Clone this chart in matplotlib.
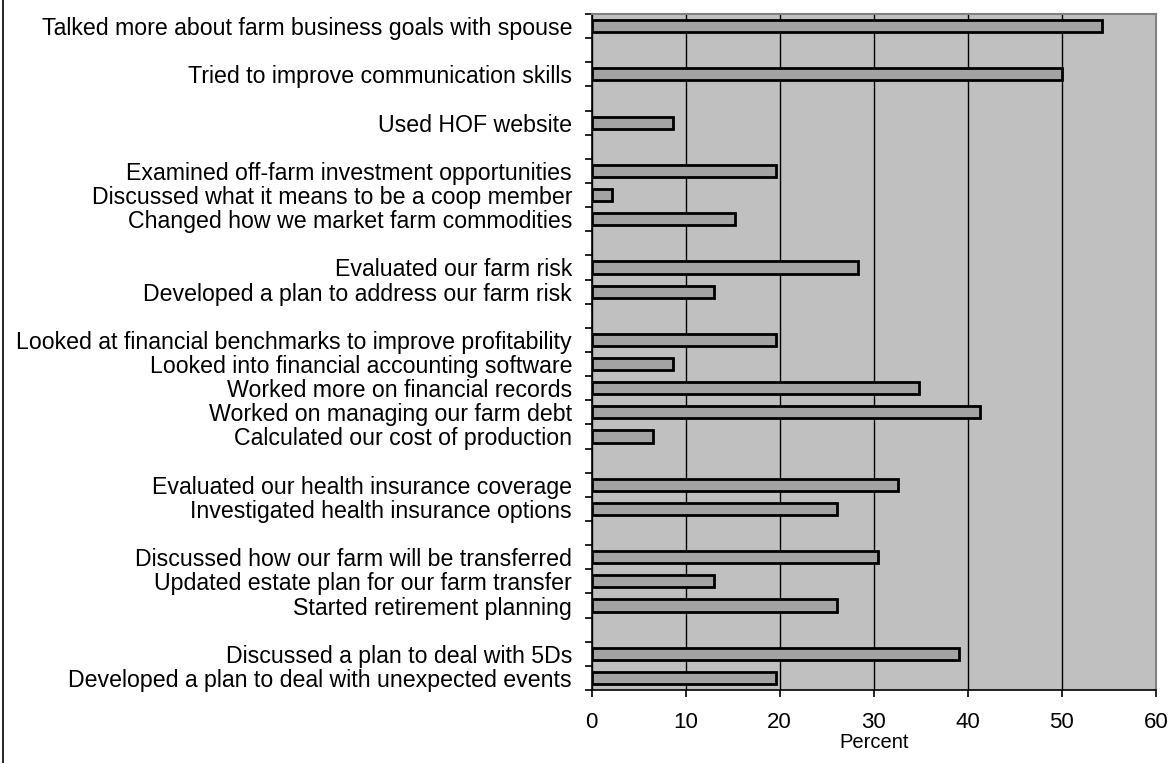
import numpy as np
import matplotlib
matplotlib.use("Agg")
import matplotlib.pyplot as plt
from matplotlib.lines import Line2D

plt.rcParams['font.family'] = ['Liberation Sans', 'DejaVu Sans']

# answers, in the order they appear top to bottom
labels = [
    "Talked more about farm business goals with spouse",
    "Tried to improve communication skills",
    "Used HOF website",
    "Examined off-farm investment opportunities",
    "Discussed what it means to be a coop member",
    "Changed how we market farm commodities",
    "Evaluated our farm risk",
    "Developed a plan to address our farm risk",
    "Looked at financial benchmarks to improve profitability",
    "Looked into financial accounting software",
    "Worked more on financial records",
    "Worked on managing our farm debt",
    "Calculated our cost of production",
    "Evaluated our health insurance coverage",
    "Investigated health insurance options",
    "Discussed how our farm will be transferred",
    "Updated estate plan for our farm transfer",
    "Started retirement planning",
    "Discussed a plan to deal with 5Ds",
    "Developed a plan to deal with unexpected events",
]
percent = [54.3, 50.0, 8.7, 19.6, 2.2, 15.2, 28.3, 13.0, 19.6, 8.7,
           34.8, 41.3, 6.5, 32.6, 26.1, 30.4, 13.0, 26.1, 39.1, 19.6]
group_sizes = [1, 1, 1, 3, 2, 5, 2, 3, 2]   # one empty row between groups

# slot index for each bar (blank slot after each group)
slots = []
s = 0
for g in group_sizes:
    for i in range(g):
        slots.append(s)
        s += 1
    s += 1
n_slots = s - 1

fig = plt.figure(figsize=(11.7, 7.63), dpi=100)
W, H = 1170, 763
ax = fig.add_axes([591.5 / W, 1 - 690 / H, (1156 - 591.5) / W, (690 - 14) / H])

ax.set_facecolor('#C0C0C0')
ax.barh(slots, percent, height=0.5, color='#A3A3A3', edgecolor='black',
        linewidth=2.0, zorder=3)

ax.set_xlim(0, 60)
ax.set_ylim(n_slots - 0.5, -0.5)
ax.set_xticks(np.arange(0, 61, 10))
ax.xaxis.grid(True, color='black', linewidth=1.0, zorder=1)
ax.set_axisbelow(True)

# category labels at slot centres, tick marks at slot boundaries
ax.set_yticks(slots)
ax.set_yticklabels(labels, fontsize=16.7)
ax.tick_params(axis='y', which='major', length=0, pad=14)
ax.set_yticks(np.arange(-0.5, n_slots, 1.0), minor=True)
ax.tick_params(axis='y', which='minor', length=5, width=1.2, color='black')
ax.tick_params(axis='x', length=5, width=1.2, labelsize=16, pad=11)

ax.set_xlabel('Percent', fontsize=14.5, labelpad=0)

for side in ['top', 'right']:
    ax.spines[side].set_color('#808080')
    ax.spines[side].set_linewidth(1.5)
for side in ['left', 'bottom']:
    ax.spines[side].set_color('black')
    ax.spines[side].set_linewidth(1.2)

# frame line down the left edge of the chart
fig.add_artist(Line2D([2.5 / W, 2.5 / W], [0, 1], color='black', linewidth=1.2,
                      transform=fig.transFigure))

fig.savefig('out.png', dpi=100)
